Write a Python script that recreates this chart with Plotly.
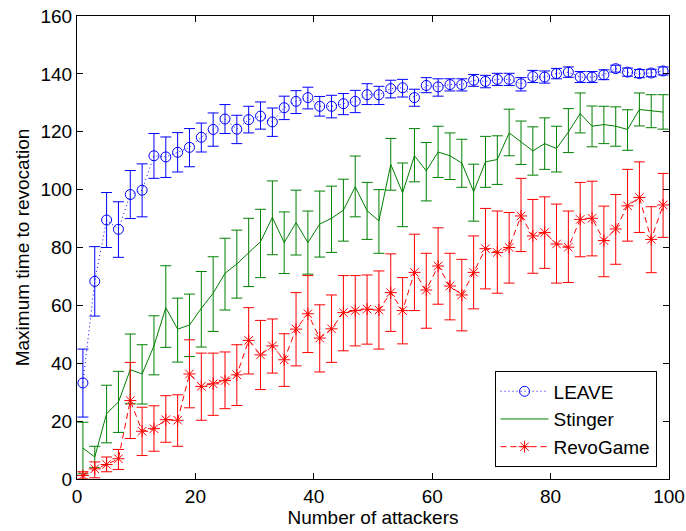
import plotly.graph_objects as go

attackers = [1, 3, 5, 7, 9, 11, 13, 15, 17, 19, 21, 23, 25, 27, 29, 31, 33, 35, 37, 39,
             41, 43, 45, 47, 49, 51, 53, 55, 57, 59, 61, 63, 65, 67, 69, 71, 73, 75, 77, 79,
             81, 83, 85, 87, 89, 91, 93, 95, 97, 99]

leave_mean = [33.2, 68.3, 89.5, 86.3, 98.3, 99.8, 111.7, 111.3, 112.9, 114.6,
              118.1, 120.8, 124.4, 120.9, 124.2, 125.4, 123.4, 128.3, 130.5, 131.8,
              128.8, 128.8, 129.7, 130.5, 132.8, 132.8, 134.9, 135.2, 131.8, 136.0,
              135.5, 136.3, 136.3, 137.8, 137.4, 138.1, 138.1, 136.6, 139.1, 138.9,
              140.1, 140.6, 138.9, 138.9, 139.7, 141.8, 140.6, 140.1, 140.3, 141.0]
leave_low = [21.4, 56.3, 80.0, 76.6, 90.0, 90.6, 103.9, 104.2, 106.1, 107.9,
             113.0, 115.0, 119.4, 115.9, 119.6, 120.9, 118.4, 124.2, 126.3, 127.9,
             125.4, 124.8, 125.9, 126.6, 129.4, 129.4, 131.7, 132.0, 128.8, 133.5,
             132.3, 134.1, 134.1, 135.7, 135.2, 136.0, 136.0, 134.1, 137.0, 136.8,
             138.3, 138.8, 137.0, 137.0, 138.0, 140.6, 139.2, 138.7, 139.0, 139.6]
leave_high = [44.9, 80.3, 99.0, 95.8, 106.6, 108.9, 119.4, 118.2, 119.7, 121.1,
              123.0, 126.5, 129.4, 125.7, 128.8, 130.3, 128.2, 132.3, 134.2, 135.4,
              132.2, 132.6, 133.2, 134.3, 136.6, 135.7, 137.8, 138.1, 134.7, 138.7,
              138.3, 138.3, 138.3, 139.8, 139.5, 140.2, 140.2, 138.7, 141.2, 141.0,
              141.9, 142.4, 140.8, 140.8, 141.4, 143.0, 142.0, 141.5, 141.6, 142.4]

stinger_mean = [10.7, 7.6, 22.6, 26.6, 37.8, 36.3, 46.0, 59.2, 51.8, 53.2,
                59.0, 64.2, 71.1, 74.3, 78.2, 82.0, 90.4, 81.7, 88.6, 81.7,
                88.1, 90.1, 92.9, 101.0, 92.7, 89.2, 108.7, 98.9, 111.7, 106.5,
                113.0, 111.7, 109.2, 99.3, 109.6, 110.4, 119.6, 116.5, 113.4, 115.9,
                114.2, 119.9, 126.3, 121.9, 122.5, 121.9, 120.8, 127.7, 127.2, 126.8]
stinger_low = [1.8, 3.9, 12.5, 16.1, 26.0, 25.9, 36.0, 45.5, 40.4, 42.3,
               45.6, 51.0, 58.4, 62.5, 66.5, 69.6, 77.5, 71.0, 77.4, 70.8,
               76.7, 78.3, 82.2, 90.6, 82.8, 78.0, 99.8, 87.2, 102.7, 96.1,
               104.2, 103.5, 100.8, 89.1, 100.8, 101.8, 111.7, 108.7, 105.0, 107.0,
               106.1, 112.8, 119.6, 114.8, 115.9, 115.0, 113.6, 122.0, 121.4, 120.9]
stinger_high = [19.6, 11.3, 32.4, 37.2, 50.1, 46.4, 56.4, 73.7, 62.5, 63.9,
                71.7, 76.8, 83.2, 86.0, 90.1, 93.2, 103.0, 92.3, 99.8, 92.6,
                99.5, 101.2, 103.6, 111.6, 102.5, 100.0, 117.7, 109.2, 121.1, 116.3,
                121.9, 119.6, 117.4, 108.8, 118.4, 118.6, 127.8, 123.7, 121.7, 124.8,
                121.9, 128.0, 133.4, 128.9, 128.8, 128.6, 127.6, 133.4, 132.8, 132.8]

revo_mean = [1.2, 3.5, 5.0, 7.0, 27.1, 16.5, 17.4, 20.5, 20.3, 36.3,
             32.0, 32.9, 34.0, 36.0, 47.9, 42.9, 46.0, 41.2, 51.8, 57.1,
             48.7, 51.9, 57.5, 58.2, 58.7, 58.4, 64.4, 58.2, 71.4, 65.3,
             73.6, 66.7, 63.6, 71.4, 79.6, 78.3, 80.0, 90.9, 84.0, 85.2,
             81.2, 80.1, 89.7, 90.1, 82.4, 86.4, 94.4, 97.3, 82.8, 94.7]
revo_low = [0.0, 0.4, 2.5, 3.3, 14.0, 8.1, 9.6, 12.7, 11.3, 24.6,
            20.3, 22.0, 24.3, 25.4, 36.3, 30.9, 36.6, 32.0, 39.1, 43.7,
            37.0, 40.3, 44.3, 46.0, 46.6, 44.9, 51.0, 46.7, 58.2, 52.1,
            60.4, 55.0, 51.2, 58.8, 65.7, 64.2, 67.7, 78.6, 71.1, 72.8,
            67.7, 67.9, 76.8, 77.1, 69.9, 74.2, 82.2, 85.2, 71.3, 83.5]
revo_high = [2.5, 5.9, 7.6, 10.2, 40.3, 24.8, 25.3, 28.8, 29.1, 48.1,
             43.5, 43.5, 43.9, 46.4, 59.2, 54.8, 55.3, 50.2, 64.4, 70.3,
             60.2, 63.6, 70.3, 70.3, 70.5, 71.9, 77.8, 69.6, 84.6, 78.0,
             86.8, 78.0, 75.9, 84.0, 93.5, 92.6, 92.1, 103.9, 96.6, 97.5,
             95.0, 92.6, 102.5, 102.9, 94.3, 98.3, 107.0, 109.6, 94.1, 105.6]

x_ticks = [0, 20, 40, 60, 80, 100]
y_ticks = [0, 20, 40, 60, 80, 100, 120, 140, 160]

FONT = "Liberation Sans, Arial, Helvetica, sans-serif"
FS = 19
BLUE = "rgb(0,0,255)"
GREEN = "rgb(0,128,0)"
RED = "rgb(255,0,0)"


def err(mean, low, high, color):
    return dict(type="data", symmetric=False,
                array=[h - m for h, m in zip(high, mean)],
                arrayminus=[m - l for m, l in zip(mean, low)],
                color=color, thickness=1, width=5.5)


fig = go.Figure()
fig.add_trace(go.Scatter(
    x=attackers, y=leave_mean, name="LEAVE", mode="lines+markers",
    line=dict(color=BLUE, width=1, dash="1px,3px"),
    marker=dict(symbol="circle-open", size=10, color=BLUE, line=dict(width=1, color=BLUE)),
    error_y=err(leave_mean, leave_low, leave_high, BLUE)))
fig.add_trace(go.Scatter(
    x=attackers, y=stinger_mean, name="Stinger", mode="lines",
    line=dict(color=GREEN, width=1),
    error_y=err(stinger_mean, stinger_low, stinger_high, GREEN)))
fig.add_trace(go.Scatter(
    x=attackers, y=revo_mean, name="RevoGame", mode="lines+markers",
    line=dict(color=RED, width=1, dash="6px,4px"),
    marker=dict(symbol="asterisk-open", size=10, color=RED, line=dict(width=1, color=RED)),
    error_y=err(revo_mean, revo_low, revo_high, RED)))

axis_common = dict(showline=True, linecolor="black", linewidth=1, mirror="ticks",
                   ticks="inside", ticklen=6, tickcolor="black", showgrid=False,
                   zeroline=False, automargin=False,
                   tickfont=dict(family=FONT, size=FS, color="black"))

fig.update_layout(
    width=686, height=531,
    margin=dict(l=77, r=17, t=15.5, b=51.5, autoexpand=False),
    paper_bgcolor="white", plot_bgcolor="white",
    font=dict(family=FONT, size=FS, color="black"),
    xaxis=dict(range=[0, 100], tickvals=x_ticks,
               title=dict(text="Number of attackers", standoff=3,
                          font=dict(family=FONT, size=FS)), **axis_common),
    yaxis=dict(range=[0, 160], tickvals=y_ticks,
               title=dict(text="Maximum time to revocation", standoff=5,
                          font=dict(family=FONT, size=FS)), **axis_common),
    legend=dict(x=0.979, y=0.025, xanchor="right", yanchor="bottom",
                bgcolor="white", bordercolor="black", borderwidth=1,
                font=dict(family=FONT, size=FS), itemwidth=48,
                tracegroupgap=0),
    showlegend=True,
)

fig.write_html("out.html")
